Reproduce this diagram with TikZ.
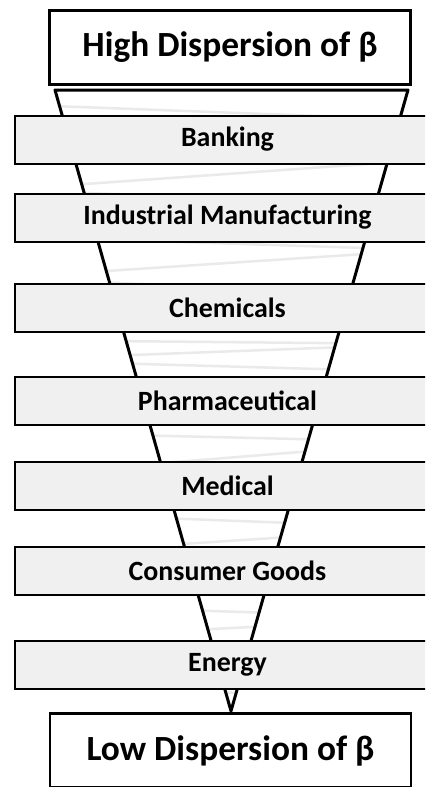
\documentclass[tikz,border=0pt]{standalone}
\usepackage{fontspec}
\setmainfont{Carlito}
\definecolor{bandgray}{RGB}{240,240,240}
\definecolor{streak}{RGB}{234,234,234}
\begin{document}
\begin{tikzpicture}[x=1bp,y=-1bp,
  band/.style={draw=black, line width=2bp, fill=bandgray, minimum width=425bp,
    minimum height=48bp, inner sep=0pt, font=\fontsize{28}{30}\selectfont\bfseries},
  endbox/.style={draw=black, line width=2.6bp, fill=white, minimum width=361bp,
    minimum height=74bp, inner sep=0pt, font=\fontsize{35.5}{40}\selectfont\bfseries},
  funnelline/.style={draw=black, line width=3bp, line join=round, line cap=round}]
\clip (0,0) rectangle (425,787);

% funnel outline points
\coordinate (fl) at (55,90);
\coordinate (fr) at (408,90);
\coordinate (tip) at (231,711);

\fill[white] (fl) -- (fr) -- (tip) -- cycle;
\begin{scope}
  \clip (fl) -- (fr) -- (tip) -- cycle;
  \draw[streak, line width=2.5bp, line join=round]
    (0,104) -- (425,120) -- (0,146) -- (425,160) -- (0,190) -- (425,205)
    -- (0,236) -- (425,250) -- (0,278) -- (425,296) -- (0,340) -- (425,344)
    -- (0,360) -- (425,372) -- (0,432) -- (425,442)
    -- (0,476) -- (425,492) -- (0,512) -- (425,528) -- (0,556) -- (425,578)
    -- (0,604) -- (425,618) -- (0,640) -- (425,660) -- (0,684) -- (425,700);
\end{scope}
\draw[funnelline] (fl) -- (fr) -- (tip) -- cycle;

% sector bands
\node[band] (banking) at (227.5,139.5) {Banking};
\node[band] (industrial) at (227.5,217.5) {Industrial Manufacturing};
\node[band] (chemicals) at (227.5,307.5) {Chemicals};
\node[band] (pharma) at (227.5,401) {Pharmaceutical};
\node[band] (medical) at (227.5,486) {Medical};
\node[band] (consumer) at (227.5,571) {Consumer Goods};
\node[band] (energy) at (227.5,665) {Energy};

% end labels
\node[endbox] (high) at (230,47.5) {High Dispersion of β};
\node[endbox] (low) at (230.5,750.5) {Low Dispersion of β};
\end{tikzpicture}
\end{document}
